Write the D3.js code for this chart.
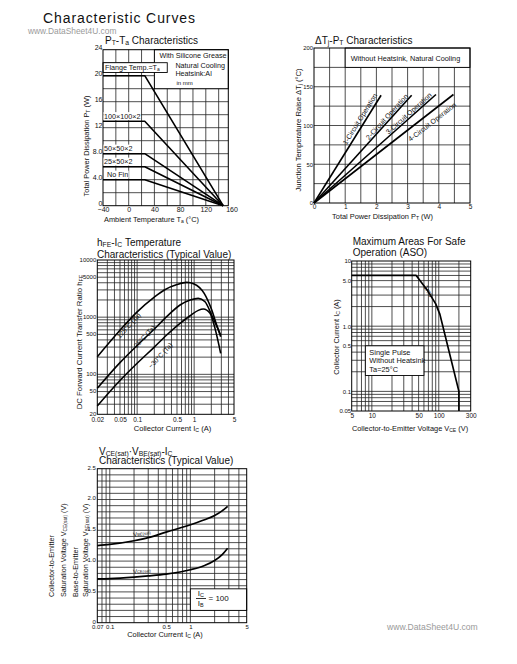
<!DOCTYPE html>
<html><head><meta charset="utf-8">
<script src="https://cdn.jsdelivr.net/npm/d3@7"></script>
<style>
body{margin:0;background:#fff;}
svg text{font-family:"Liberation Sans",Arial,sans-serif;fill:#111;}
</style></head><body>
<script>
// ===================== DATA =====================
// Chart 1: PT-Ta
const ptTaSeries = ["Flange Temp.=Ta","100×100×2","50×50×2","25×50×2","No Fin"];
const ptTaMaxW   = [20, 13, 8, 6, 4];
const ptTaTemps  = [-40, 25, 147];          // flat start, knee, zero-power temperature
const ptTaXTicks = [-40, 0, 40, 80, 120, 160];
const ptTaYTicks = [0, 4, 8, 12, 16, 20, 24];
const ptTaYLabels= ["0","4.0","8.0","12","16","20","24"];

// Chart 2: dTj-PT
const dtjSeries = ["1-Circuit Operation","2-Circuit Operation","3-Circuit Operation","4-Circuit Operation"];
const dtjEndPT  = [2.15, 3.13, 3.91, 4.47];
const dtjEndDT  = [139, 139, 140, 140];
const dtjXTicks = [0,1,2,3,4,5];
const dtjYTicks = [0,50,100,150,200];

// Chart 3: hFE-Ic
const hfeSeries = ["125°C (Ta)","25°C (Ta)","−30°C (Ta)"];
const hfeIc125 = [0.02,0.05,0.1,0.2,0.3,0.5,0.74,1.0,1.5,2.0,2.5,2.92];
const hfe125   = [203,591,1240,2250,2990,3720,4060,3820,2605,1400,716,455];
const hfeIc25  = [0.02,0.05,0.1,0.2,0.33,0.565,0.85,1.18,1.55,2.03,2.5,2.92];
const hfe25    = [57,160,320,620,1020,1630,1990,2130,1860,1090,690,487];
const hfeIcM30 = [0.02,0.05,0.1,0.2,0.33,0.565,0.85,1.18,1.45,1.9,2.32,2.92];
const hfeM30   = [28,78,156,300,487,780,1060,1315,1390,1167,637,233];
const hfeXTicks = [0.02,0.05,0.1,0.5,1,5];
const hfeXLabels= ["0.02","0.05","0.1","0.5","1","5"];
const hfeYTicks = [20,50,100,500,1000,5000,10000];

// Chart 4: ASO
const asoV = [5, 46, 67, 90, 104, 200, 200];
const asoI = [6, 6, 3.6, 2.2, 1.52, 0.1, 0.05];
const asoXTicks = [5,10,50,100,300];
const asoYTicks = [0.05,0.1,0.5,1,5,10];
const asoYLabels= ["0.05","0.1","0.5","1.0","5.0","10"];

// Chart 5: Vsat-Ic
const satIc  = [0.07,0.1,0.2,0.3,0.5,1,1.5,2,2.5,2.9];
const satVBE = [1.25,1.27,1.33,1.38,1.47,1.59,1.67,1.74,1.82,1.89];
const satVCE = [0.71,0.715,0.74,0.76,0.79,0.86,0.93,1.01,1.11,1.21];
const satXTicks = [0.07,0.1,0.5,1,5];
const satXLabels= ["0.07","0.1","0.5","1","5"];
const satYTicks = [0,0.5,1,1.5,2,2.5];
const satYLabels= ["0","0.5","1.0","1.5","2.0","2.5"];

// ===================== HELPERS =====================
const TICKF = '"Liberation Sans Narrow","Liberation Sans",Arial,sans-serif';
const svg = d3.select("body").append("svg").attr("width",517).attr("height",664).style("display","block");
svg.append("rect").attr("width",517).attr("height",664).attr("fill","#fff");

function rich(g, x, y, parts, size, opts={}) {
  const t = g.append("text").attr("x",x).attr("y",y).attr("font-size",size)
    .attr("text-anchor",opts.anchor||"start");
  if (opts.rotate) t.attr("transform",`rotate(${opts.rotate},${x},${y})`);
  if (opts.fill) t.style("fill",opts.fill);
  for (const p of parts) {
    if (typeof p === "string") t.append("tspan").text(p);
    else t.append("tspan").attr("font-size",size*0.68).attr("baseline-shift",-size*0.1).text(p.s);
  }
  return t;
}
function logGrid(lo, hi) {
  const out=[];
  for (let e=Math.floor(Math.log10(lo))-1; e<=Math.ceil(Math.log10(hi)); e++)
    for (let m=1;m<10;m++){ const v=+(m*Math.pow(10,e)).toPrecision(6); if (v>lo*1.0001 && v<hi*0.9999) out.push(v); }
  return out;
}
function drawGrid(g,x,y,xv,yv){
  const [x0,x1]=x.range(), [y0,y1]=y.range();
  g.append("g").selectAll("line").data(xv).join("line")
    .attr("x1",d=>x(d)).attr("x2",d=>x(d)).attr("y1",y0).attr("y2",y1)
    .attr("stroke","#222").attr("stroke-width",0.8);
  g.append("g").selectAll("line").data(yv).join("line")
    .attr("y1",d=>y(d)).attr("y2",d=>y(d)).attr("x1",x0).attr("x2",x1)
    .attr("stroke","#222").attr("stroke-width",0.8);
}
function frame(g,x,y){
  const [x0,x1]=x.range(), [y0,y1]=y.range();
  g.append("rect").attr("x",x0).attr("y",y1).attr("width",x1-x0).attr("height",y0-y1)
    .attr("fill","none").attr("stroke","#000").attr("stroke-width",1);
}
function box(g,x0,y0,x1,y1){
  g.append("rect").attr("x",Math.min(x0,x1)).attr("y",Math.min(y0,y1))
   .attr("width",Math.abs(x1-x0)).attr("height",Math.abs(y1-y0))
   .attr("fill","#fff").attr("stroke","#000").attr("stroke-width",0.9);
}
function styleTicks(sel,size,dy){
  sel.attr("font-size",null).attr("font-family",null);
  sel.selectAll("text").attr("font-size",size).style("font-family",TICKF).style("fill","#111");
  if (dy!=null) sel.selectAll("text").attr("dy",dy);
  sel.select(".domain").remove();
}
function yAxis(g,x,y,vals,labels,size,pad,dy){
  g.append("g").attr("transform",`translate(${x.range()[0]},0)`)
   .call(d3.axisLeft(y).tickValues(vals).tickFormat((d,i)=>labels[i]).tickSize(0).tickPadding(pad))
   .call(s=>styleTicks(s,size,dy));
}
function xAxis(g,x,y,vals,labels,size,pad){
  g.append("g").attr("transform",`translate(0,${y.range()[0]})`)
   .call(d3.axisBottom(x).tickValues(vals).tickFormat((d,i)=>labels[i]).tickSize(0).tickPadding(pad))
   .call(s=>styleTicks(s,size));
}
function curve(g,line,pts,w){
  g.append("path").attr("d",line(pts)).attr("fill","none").attr("stroke","#000")
   .attr("stroke-width",w||1.7).attr("stroke-linejoin","round");
}

// page title + watermark
svg.append("text").attr("x",43).attr("y",23).attr("font-size",14).attr("textLength",152)
   .attr("lengthAdjust","spacing").text("Characteristic Curves");
svg.append("text").attr("x",28).attr("y",34).attr("font-size",8.4).style("fill","#9a9a9a").text("www.DataSheet4U.com");
svg.append("text").attr("x",387).attr("y",630).attr("font-size",8.6).style("fill","#9a9a9a").text("www.DataSheet4U.com");

// ===================== CHART 1 =====================
{
  const x=d3.scaleLinear().domain([-40,155]).range([103,228.3]);
  const y=d3.scaleLinear().domain([0,24]).range([205.7,49.7]);
  const g=svg.append("g");
  drawGrid(g,x,y,d3.range(-20,155,20),d3.range(2,24,2));
  box(g,x(40),y(24),x(155),y(18));
  box(g,x(-40),y(22),x(60),y(20.5));
  frame(g,x,y);
  const ln=d3.line().x(d=>x(d[0])).y(d=>y(d[1]));
  ptTaMaxW.forEach((m)=>curve(g,ln,[[ptTaTemps[0],m],[ptTaTemps[1],m],[ptTaTemps[2],0]],1.6));
  const lx=x(40);
  rich(g,lx+5,58,["With Silicone Grease"],7.2);
  rich(g,lx+21,67.5,["Natural Cooling"],7.2);
  rich(g,lx+21,76,["Heatsink:Al"],7.2);
  rich(g,lx+22,84.5,["in mm"],6);
  rich(g,x(-40)+2,70.3,["Flange Temp.=T",{s:"a"}],7.2);
  ptTaSeries.forEach((s,i)=>{
    if(i===0) return;
    const tx = x(-40)+(i===4?4:1), ty=y(ptTaMaxW[i])-2.6;
    const t=rich(g,tx,ty,[s],7.2);
    const bb=t.node().getBBox();
    g.insert("rect",()=>t.node()).attr("x",bb.x-0.5).attr("y",bb.y+0.5).attr("width",bb.width+1).attr("height",bb.height-1).attr("fill","#fff");
  });
  yAxis(g,x,y,ptTaYTicks,ptTaYLabels,7,0.5,"0.02em");
  xAxis(g,x,y,ptTaXTicks,ptTaXTicks.map(d=>d<0?"−"+(-d):String(d)),7,1.5);
  rich(g,105,44,["P",{s:"T"},"-T",{s:"a"}," Characteristics"],10);
  rich(g,151.5,222,["Ambient Temperature T",{s:"a"}," (°C)"],7.4,{anchor:"middle"});
  rich(g,89.3,146,["Total Power Dissipation P",{s:"T"}," (W)"],7.4,{anchor:"middle",rotate:-90});
}

// ===================== CHART 2 =====================
{
  const x=d3.scaleLinear().domain([0,5]).range([314,470]);
  const y=d3.scaleLinear().domain([0,200]).range([203,48]);
  const g=svg.append("g");
  drawGrid(g,x,y,d3.range(0.5,5,0.5),d3.range(25,200,25));
  box(g,x(1),y(200),x(5),y(175));
  frame(g,x,y);
  const ln=d3.line().x(d=>x(d[0])).y(d=>y(d[1]));
  const labAt=[1.62,2.43,3.12,3.62], labOff=[6,4.4,4.5,-8];
  dtjSeries.forEach((s,i)=>{
    curve(g,ln,[[0,0],[dtjEndPT[i],dtjEndDT[i]]],1.6);
    const dx=x(dtjEndPT[i])-x(0), dy=y(dtjEndDT[i])-y(0), L=Math.hypot(dx,dy);
    const nx=dy/L, ny=-dx/L;
    const pt=labAt[i], fx=x(pt), fy=y(pt*dtjEndDT[i]/dtjEndPT[i]);
    const cx=fx+labOff[i]*nx, cy=fy+labOff[i]*ny;
    const ang=Math.atan2(dy,dx)*180/Math.PI;
    rich(g,cx,cy,[s],7,{anchor:"middle",rotate:ang}).attr("dominant-baseline","central");
  });
  rich(g,x(1)+5.5,60.5,["Without Heatsink, Natural Cooling"],7.3);
  yAxis(g,x,y,dtjYTicks,dtjYTicks.map(String),5.8,1);
  xAxis(g,x,y,dtjXTicks,dtjXTicks.map(String),6.5,1);
  rich(g,315,44,["ΔT",{s:"j"},"-P",{s:"T"}," Characteristics"],10);
  rich(g,382.5,219.3,["Total Power Dissipation P",{s:"T"}," (W)"],7.4,{anchor:"middle"});
  rich(g,300.5,130,["Junction Temperature Raise ΔT",{s:"j"}," (°C)"],7.6,{anchor:"middle",rotate:-90});
}

// ===================== CHART 3 =====================
{
  const x=d3.scaleLog().domain([0.02,5]).range([97.3,234]);
  const y=d3.scaleLog().domain([20,10000]).range([414.3,260]);
  const g=svg.append("g");
  drawGrid(g,x,y,logGrid(0.02,5),logGrid(20,10000));
  frame(g,x,y);
  const ln=d3.line().x(d=>x(d[0])).y(d=>y(d[1])).curve(d3.curveMonotoneX);
  const sets=[[hfeIc125,hfe125],[hfeIc25,hfe25],[hfeIcM30,hfeM30]];
  sets.forEach(([ic,h])=>curve(g,ln,ic.map((c,i)=>[c,h[i]]),1.6));
  const labPos=[[0.07,728],[0.132,468],[0.252,218]];
  hfeSeries.forEach((s,i)=>{
    rich(g,x(labPos[i][0]),y(labPos[i][1]),[s],6.6,{anchor:"middle",rotate:-47}).attr("dominant-baseline","central");
  });
  yAxis(g,x,y,hfeYTicks,hfeYTicks.map(String),6,1,"0.2em");
  xAxis(g,x,y,hfeXTicks,hfeXLabels,6.5,2.6);
  rich(g,97,245.5,["h",{s:"FE"},"-I",{s:"C"}," Temperature"],10);
  rich(g,97,257.5,["Characteristics (Typical Value)"],10);
  rich(g,172.5,430.5,["Collector Current I",{s:"C"}," (A)"],7.6,{anchor:"middle"});
  rich(g,81.8,342,["DC Forward Current Transfer Ratio h",{s:"FE"}],7.8,{anchor:"middle",rotate:-90});
}

// ===================== CHART 4 =====================
{
  const x=d3.scaleLog().domain([5,300]).range([351.7,470.7]);
  const y=d3.scaleLog().domain([0.05,10]).range([411,261]);
  const g=svg.append("g");
  drawGrid(g,x,y,logGrid(5,300),logGrid(0.05,10));
  box(g,x(8),y(0.5),x(60),y(0.175));
  frame(g,x,y);
  const ln=d3.line().x(d=>x(d[0])).y(d=>y(d[1]));
  curve(g,ln,asoV.map((v,i)=>[v,asoI[i]]),1.7);
  rich(g,x(8)+4,354.5,["Single Pulse"],7.4);
  rich(g,x(8)+4,363,["Without Heatsink"],7.4);
  rich(g,x(8)+4,371.5,["Ta=25°C"],7.4);
  rich(g,x(72),y(3.5),["1ms"],6.5,{anchor:"middle",rotate:58}).attr("dominant-baseline","central");
  yAxis(g,x,y,asoYTicks,asoYLabels,6,0.6);
  xAxis(g,x,y,asoXTicks,asoXTicks.map(String),6.5,2);
  rich(g,352.7,245,["Maximum Areas For Safe"],10);
  rich(g,352.7,256,["Operation (ASO)"],10);
  rich(g,410,430.5,["Collector-to-Emitter Voltage V",{s:"CE"}," (V)"],7.4,{anchor:"middle"});
  rich(g,339.3,337,["Collector Current I",{s:"C"}," (A)"],7.4,{anchor:"middle",rotate:-90});
}

// ===================== CHART 5 =====================
{
  const x=d3.scaleLog().domain([0.07,5]).range([97.3,246.7]);
  const y=d3.scaleLinear().domain([0,2.5]).range([622.7,468.7]);
  const g=svg.append("g");
  drawGrid(g,x,y,logGrid(0.07,5),d3.range(1,25).map(d=>d/10));
  box(g,x(1),y(0.55),x(5),y(0.2));
  frame(g,x,y);
  const ln=d3.line().x(d=>x(d[0])).y(d=>y(d[1])).curve(d3.curveMonotoneX);
  curve(g,ln,satIc.map((c,i)=>[c,satVBE[i]]),1.7);
  curve(g,ln,satIc.map((c,i)=>[c,satVCE[i]]),1.7);
  rich(g,x(0.25),y(1.45),["V",{s:"BE(sat)"}],6,{anchor:"middle",rotate:-9}).attr("dominant-baseline","central");
  rich(g,x(0.25),y(0.84),["V",{s:"CE(sat)"}],6,{anchor:"middle",rotate:-5}).attr("dominant-baseline","central");
  rich(g,200.8,595.5,["I",{s:"C"}],8,{anchor:"middle"});
  g.append("line").attr("x1",196).attr("x2",206).attr("y1",598.5).attr("y2",598.5).attr("stroke","#000").attr("stroke-width",0.8);
  rich(g,200.8,606,["I",{s:"B"}],8,{anchor:"middle"});
  rich(g,208.5,601.3,["= 100"],8);
  yAxis(g,x,y,satYTicks,satYLabels,6,1.5,"0.05em");
  xAxis(g,x,y,satXTicks,satXLabels,6,1.8);
  rich(g,99,454.5,["V",{s:"CE(sat)"},"·V",{s:"BE(sat)"},"-I",{s:"C"}],10);
  rich(g,99,464.3,["Characteristics (Typical Value)"],10);
  rich(g,165,637,["Collector Current I",{s:"C"}," (A)"],7.4,{anchor:"middle"});
  rich(g,54.2,597,["Collector-to-Emitter"],7.2,{rotate:-90});
  rich(g,65.8,597,["Saturation Voltage V",{s:"CE(sat)"}," (V)"],7.2,{rotate:-90});
  rich(g,77.5,597,["Base-to-Emitter"],7.2,{rotate:-90});
  rich(g,87.5,597,["Saturation Voltage V",{s:"BE(sat)"}," (V)"],7.2,{rotate:-90});
}
</script></body></html>
